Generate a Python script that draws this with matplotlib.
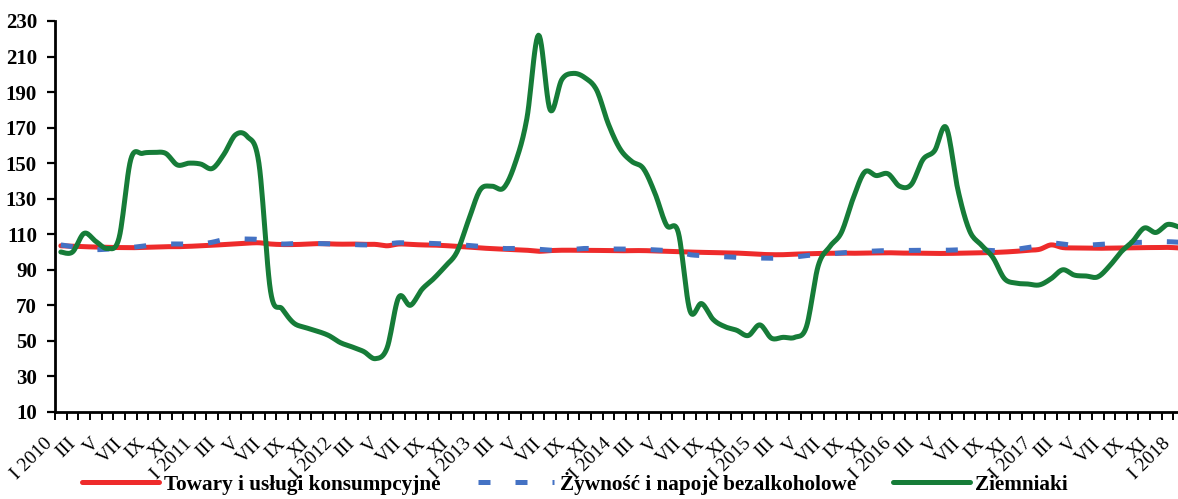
import numpy as np
import matplotlib
matplotlib.use("Agg")
import matplotlib.pyplot as plt
from matplotlib.transforms import ScaledTranslation

# monthly y/y indices, I 2010 .. I 2018
roman = ["I", "II", "III", "IV", "V", "VI", "VII", "VIII", "IX", "X", "XI", "XII"]
months = [roman[i % 12] + (" %d" % (2010 + i // 12) if i % 12 == 0 else "") for i in range(97)]

towary = [103.5, 103.3, 103.0, 102.8, 102.6, 102.5, 102.4, 102.6, 102.8, 103.0, 103.0, 103.2,
          103.5, 103.8, 104.2, 104.6, 105.0, 105.2, 104.5, 104.2, 104.2, 104.4, 104.7, 104.6,
          104.4, 104.5, 104.3, 104.3, 103.5, 104.5, 104.3, 104.0, 103.9, 103.6, 103.2, 102.8,
          102.3, 101.9, 101.6, 101.3, 101.0, 100.4, 100.8, 101.0, 101.0, 101.0, 100.9, 100.8,
          100.7, 100.8, 100.8, 100.6, 100.4, 100.3, 100.0, 99.8, 99.7, 99.5, 99.4, 99.1,
          98.7, 98.5, 98.5, 98.8, 99.0, 99.2, 99.3, 99.4, 99.3, 99.4, 99.5, 99.6,
          99.4, 99.4, 99.3, 99.2, 99.2, 99.3, 99.4, 99.5, 99.7, 100.0, 100.4, 101.0,
          101.5, 104.0, 102.5, 102.3, 102.2, 102.1, 102.2, 102.3, 102.4, 102.5, 102.5, 102.6,
          102.3]

zywnosc = [104.0, 103.0, 101.5, 101.3, 101.6, 102.0, 102.5, 103.3, 104.0, 104.5, 104.5, 104.5,
           104.5, 105.5, 107.0, 107.3, 107.3, 107.0, 105.5, 104.5, 104.8, 105.0, 104.8, 104.6,
           104.5, 104.2, 104.0, 104.0, 104.5, 105.2, 105.0, 105.0, 104.8, 104.5, 104.2, 103.7,
           103.2, 102.7, 102.0, 102.0, 102.0, 101.5, 101.0, 101.0, 101.5, 102.0, 101.8, 101.7,
           101.7, 101.6, 101.5, 101.2, 100.8, 100.0, 98.5, 98.0, 97.6, 97.4, 97.0, 96.8,
           96.6, 96.5, 96.5, 97.2, 98.0, 98.5, 98.9, 99.5, 100.0, 100.3, 100.6, 100.8,
           100.8, 100.9, 101.0, 101.0, 101.0, 101.2, 101.5, 101.2, 100.8, 100.6, 101.5, 102.5,
           103.5, 105.0, 104.5, 103.7, 103.8, 104.2, 104.6, 105.0, 105.3, 105.5, 105.7, 105.8,
           105.5]

ziemniaki = [100, 100, 110.5, 106, 102, 108, 152, 155.5, 156, 155.5, 149, 150,
             149.5, 147, 155, 166, 165, 150, 78, 68, 60, 57.5, 55.5, 53,
             49, 46.6, 44, 40, 46, 74.5, 70, 79, 85, 92, 100, 118,
             135, 137, 136, 150, 175, 222, 180, 197, 200.5, 198, 191, 172,
             158, 151, 147, 133, 115, 111, 67, 71, 62, 58, 56, 53,
             59, 51.5, 52, 52, 58, 92, 103, 111, 130, 145, 143, 144,
             137, 138, 152, 157, 170, 135, 112, 104, 97, 85, 82.5, 82,
             81.5, 85, 90, 87, 86.5, 86, 92, 100, 106, 113.5, 111, 115.5,
             114]

labels = ["Towary i usługi konsumpcyjne", "Żywność i napoje bezalkoholowe", "Ziemniaki"]


def smooth(y, n=12):
    # Excel-like smoothed line (Catmull-Rom / Bezier)
    y = np.asarray(y, float)
    x = np.arange(len(y), dtype=float)
    xs, ys = [], []
    for i in range(len(y) - 1):
        i0, i3 = max(i - 1, 0), min(i + 2, len(y) - 1)
        p0, p1, p2, p3 = [np.array([x[k], y[k]]) for k in (i0, i, i + 1, i3)]
        c1 = p1 + (p2 - p0) / 6
        c2 = p2 - (p3 - p1) / 6
        t = np.linspace(0, 1, n, endpoint=False)[:, None]
        pts = (1 - t) ** 3 * p1 + 3 * (1 - t) ** 2 * t * c1 + 3 * (1 - t) * t ** 2 * c2 + t ** 3 * p2
        xs.extend(pts[:, 0]); ys.extend(pts[:, 1])
    xs.append(x[-1]); ys.append(y[-1])
    return xs, ys


plt.rcParams["font.family"] = ["Liberation Serif", "DejaVu Serif"]

fig = plt.figure(figsize=(11.78, 4.99), dpi=100)
# the plot area runs a little past the right edge of the picture, as in the original
ax = fig.add_axes([0.0467, 0.1744, 0.9593, 0.7836])

x1, y1 = smooth(towary)
x2, y2 = smooth(zywnosc)
x3, y3 = smooth(ziemniaki)
l1, = ax.plot(x1, y1, color="#EE2B2B", lw=3.6, label=labels[0], solid_capstyle="round")
l2, = ax.plot(x2, y2, color="#4472C4", lw=3.6, ls=(0, (2.4, 5.0)), label=labels[1])
l3, = ax.plot(x3, y3, color="#167C38", lw=3.6, label=labels[2], solid_capstyle="round")

ax.set_xlim(-0.5, 96.5)
ax.set_ylim(10, 230)
ax.set_yticks(range(10, 231, 20))
for lab in ax.get_yticklabels():
    lab.set_fontweight("bold")
ax.tick_params(axis="y", labelsize=15, length=6, width=1.6, pad=7, direction="out")

ax.set_xticks(np.arange(-0.5, 97, 1))
ax.set_xticklabels([])
ax.tick_params(axis="x", which="major", length=6, width=1.4, direction="out")
ax.set_xticks(range(0, 97, 2), minor=True)
ax.set_xticklabels(months[::2], minor=True, rotation=45, ha="right", va="center",
                   rotation_mode="anchor", fontsize=14)
ax.tick_params(axis="x", which="minor", length=0, pad=21)
shift = ScaledTranslation(-8 / 72, 0, fig.dpi_scale_trans)
for lab in ax.get_xticklabels(minor=True):
    lab.set_transform(lab.get_transform() + shift)

for s in ("top", "right"):
    ax.spines[s].set_visible(False)
for s in ("left", "bottom"):
    ax.spines[s].set_linewidth(2)

leg = fig.legend(handles=[l1, l2, l3], loc="center", bbox_to_anchor=(0.488, 0.032),
                 ncol=3, frameon=False, handlelength=3.6, handletextpad=0.25,
                 columnspacing=1.75, prop={"size": 15.3, "weight": "bold"})

fig.savefig("out.png", dpi=100)
